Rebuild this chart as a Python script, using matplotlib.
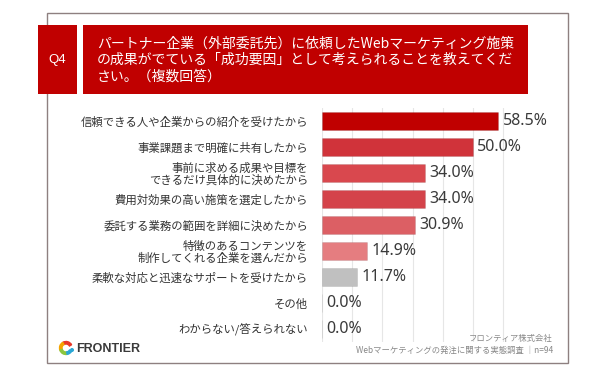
import numpy as np
import matplotlib
matplotlib.use("Agg")
import matplotlib.pyplot as plt
from matplotlib.patches import Rectangle, Wedge, Circle

plt.rcParams['font.family'] = ['Noto Sans CJK JP', 'DejaVu Sans']

categories = [
    "信頼できる人や企業からの紹介を受けたから",
    "事業課題まで明確に共有したから",
    "事前に求める成果や目標を\nできるだけ具体的に決めたから",
    "費用対効果の高い施策を選定したから",
    "委託する業務の範囲を詳細に決めたから",
    "特徴のあるコンテンツを\n制作してくれる企業を選んだから",
    "柔軟な対応と迅速なサポートを受けたから",
    "その他",
    "わからない/答えられない",
]
values = [58.5, 50.0, 34.0, 34.0, 30.9, 14.9, 11.7, 0.0, 0.0]
colors = ["#c00000", "#d0333a", "#d9484e", "#d4434a", "#dc5f64",
          "#e57d80", "#c0c0c0", "#c0c0c0", "#c0c0c0"]

title = ("パートナー企業（外部委託先）に依頼したWebマーケティング施策\n"
         "の成果がでている「成功要因」として考えられることを教えてくだ\n"
         "さい。（複数回答）")
source1 = "フロンティア株式会社"
source2 = "Webマーケティングの発注に関する実態調査 ｜n=94"

W, H = 600, 375
fig = plt.figure(figsize=(6, 3.75), dpi=100)

def fx(x):
    return x / W

def fy(y):
    return 1 - y / H

# outer frame
fig.patches.append(Rectangle((fx(47), fy(363)), fx(568) - fx(47), fy(13) - fy(363),
                             transform=fig.transFigure, fill=False,
                             edgecolor="#8e8080", lw=1.0))
# header boxes
fig.patches.append(Rectangle((fx(38), fy(94)), fx(77) - fx(38), fy(25) - fy(94),
                             transform=fig.transFigure, color="#c00000", lw=0))
fig.patches.append(Rectangle((fx(83), fy(94)), fx(528) - fx(83), fy(25) - fy(94),
                             transform=fig.transFigure, color="#c00000", lw=0))
fig.text(fx(57.5), fy(60), "Q4", color="white", fontsize=9.5,
         ha="center", va="center", family=["Liberation Sans", "DejaVu Sans"])
fig.text(fx(97), fy(60), title, color="white", fontsize=10,
         ha="left", va="center", linespacing=1.25)

# chart
ax = fig.add_axes([fx(322), fy(342), fx(568) - fx(322), fy(108) - fy(342)])
y = np.arange(len(categories))
ax.barh(y, values, height=0.72, color=colors, edgecolor="#00000018", lw=0.6, zorder=3)
ax.set_xlim(0, (568 - 322) / 3.017)
ax.set_ylim(len(categories) - 0.5, -0.5)
ax.set_xticks(np.arange(0, 61, 10))
ax.set_xticklabels([])
ax.tick_params(length=0)
ax.grid(axis="x", color="#e6e6e6", lw=0.8, zorder=0)
for s in ax.spines.values():
    s.set_visible(False)
ax.set_yticks(y)
ax.set_yticklabels(categories, fontsize=8.2, color="#333333", linespacing=1.05)
ax.tick_params(axis="y", pad=10)
for yi, v in zip(y, values):
    ax.text(v + 1.5, yi, f"{v:.1f}%", va="center", ha="left", fontsize=11.5,
            color="#3a3a3a", family=["Noto Sans", "DejaVu Sans"])

# source
fig.text(fx(553), fy(339), source1, fontsize=6, color="#888888", ha="right", va="center")
fig.text(fx(553), fy(350), source2, fontsize=6, color="#888888", ha="right", va="center")

# logo
ring_colors = [("#e83828", 30, 120), ("#f5a300", 120, 200), ("#8cc63f", 200, 280), ("#2aa7d5", 280, 330)]
for c, t1, t2 in ring_colors:
    fig.patches.append(Wedge((66, H - 348), 6.5, t1, t2, width=2.5, color=c,
                             transform=None))
fig.patches.append(Circle((72, H - 350), 1.3, color="#2aa7d5", transform=None))
fig.text(fx(76), fy(349), "FRONTIER", fontsize=9, fontweight="bold", color="#3a3a3a",
         ha="left", va="center", family=["Liberation Sans", "DejaVu Sans"])

fig.savefig("out.png", dpi=100)
